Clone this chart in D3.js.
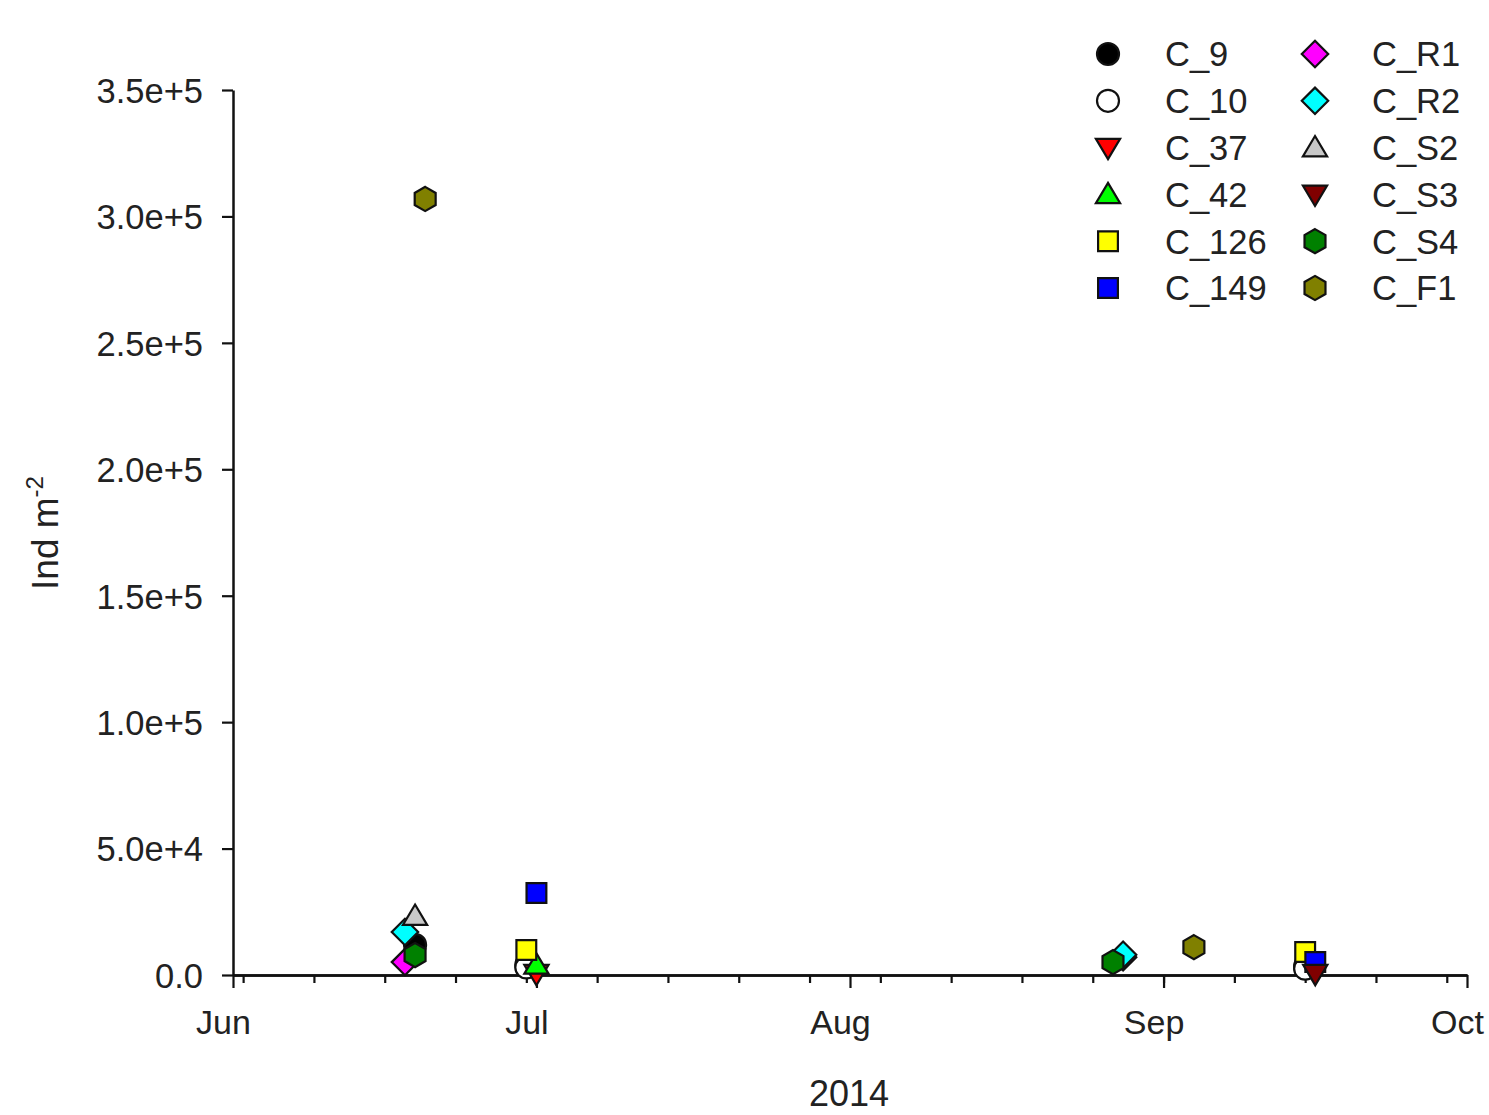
<!DOCTYPE html>
<html>
<head>
<meta charset="utf-8">
<script src="https://cdn.jsdelivr.net/npm/d3@7"></script>
<style>
  body { margin: 0; background: #fff; }
  svg text { font-family: "Liberation Sans", Arial, sans-serif; fill: #222; }
</style>
</head>
<body>
<div id="chart"></div>
<script>
// Series names, colours and marker shapes (legend order)
var seriesNames = ["C_9", "C_10", "C_37", "C_42", "C_126", "C_149",
                   "C_R1", "C_R2", "C_S2", "C_S3", "C_S4", "C_F1"];
var seriesFills = ["#000000", "#ffffff", "#ff0000", "#00ff00", "#ffff00", "#0000ff",
                   "#ff00ff", "#00ffff", "#c8c8c8", "#800000", "#008000", "#808000"];
var seriesShapes = ["circle", "circle", "triDown", "triUp", "square", "square",
                    "diamond", "diamond", "triUp", "triDown", "hexagon", "hexagon"];

// Observations per series: [date, individuals per m2]
var C_9   = [["2014-06-19", 11900], ["2014-06-30", 4000], ["2014-09-15", 3500]];
var C_10  = [["2014-06-30", 3000], ["2014-09-15", 2500]];
var C_37  = [["2014-07-01", 500]];
var C_42  = [["2014-07-01", 4000]];
var C_126 = [["2014-06-30", 9900], ["2014-09-15", 9100]];
var C_149 = [["2014-07-01", 32400], ["2014-09-16", 5100]];
var C_R1  = [["2014-06-18", 5100], ["2014-08-28", 7000]];
var C_R2  = [["2014-06-18", 17000], ["2014-08-28", 8000]];
var C_S2  = [["2014-06-19", 23300]];
var C_S3  = [["2014-09-16", 500]];
var C_S4  = [["2014-06-19", 7900], ["2014-08-27", 5100]];
var C_F1  = [["2014-06-20", 306900], ["2014-09-04", 11000]];

var seriesData = [C_9, C_10, C_37, C_42, C_126, C_149, C_R1, C_R2, C_S2, C_S3, C_S4, C_F1];

var yTicks = [0, 50000, 100000, 150000, 200000, 250000, 300000, 350000];

// Canvas
var svgWidth = 1489;
var svgHeight = 1115;
var svg = d3.select("#chart").append("svg")
  .attr("width", svgWidth)
  .attr("height", svgHeight);

var parseDate = d3.timeParse("%Y-%m-%d");

var x = d3.scaleTime()
  .domain([new Date(2014, 5, 1), new Date(2014, 9, 1)])
  .range([233, 1467]);
var y = d3.scaleLinear()
  .domain([0, 350000])
  .range([975, 90]);

// Marker path for a shape with "radius" r
function shapePath(type, r) {
  var p = d3.path();
  if (type === "circle") {
    p.moveTo(r, 0); p.arc(0, 0, r, 0, 2 * Math.PI); p.closePath();
  } else if (type === "square") {
    var s = r * 0.9;
    p.rect(-s, -s, 2 * s, 2 * s);
  } else if (type === "diamond") {
    var d = r * 1.2;
    p.moveTo(0, -d); p.lineTo(d, 0); p.lineTo(0, d); p.lineTo(-d, 0); p.closePath();
  } else if (type === "triUp") {
    p.moveTo(0, -r * 1.05); p.lineTo(r * 1.1, r * 0.8); p.lineTo(-r * 1.1, r * 0.8); p.closePath();
  } else if (type === "triDown") {
    p.moveTo(0, r * 1.05); p.lineTo(r * 1.1, -r * 0.8); p.lineTo(-r * 1.1, -r * 0.8); p.closePath();
  } else if (type === "hexagon") {
    var h = r * 1.1;
    for (var i = 0; i < 6; i++) {
      var a = -Math.PI / 2 + i * Math.PI / 3;
      if (i === 0) p.moveTo(h * Math.cos(a), h * Math.sin(a));
      else p.lineTo(h * Math.cos(a), h * Math.sin(a));
    }
    p.closePath();
  }
  return p.toString();
}

var markerR = 11;

// Axes
var yAxis = d3.axisLeft(y)
  .tickValues(yTicks)
  .tickSize(11)
  .tickSizeOuter(0)
  .tickPadding(19)
  .tickFormat(function(d) { return d === 0 ? "0.0" : d3.format(".1e")(d); });

var gy = svg.append("g")
  .attr("transform", "translate(233,0)")
  .call(yAxis);
gy.selectAll("text").style("font-size", "34.5px").attr("dy", "0.36em");

var minorAxis = d3.axisBottom(x)
  .tickValues(d3.timeMonday.range(new Date(2014, 5, 1), new Date(2014, 9, 1)))
  .tickSize(8)
  .tickSizeOuter(0)
  .tickFormat("");
svg.append("g")
  .attr("transform", "translate(0,975)")
  .call(minorAxis);

var majorAxis = d3.axisBottom(x)
  .tickValues(d3.timeMonth.range(new Date(2014, 5, 1), new Date(2014, 9, 2)))
  .tickSize(13)
  .tickSizeOuter(0)
  .tickPadding(22)
  .tickFormat(d3.timeFormat("%b"));
var gx = svg.append("g")
  .attr("transform", "translate(0,975)")
  .call(majorAxis);
gx.selectAll("text").style("font-size", "34px").attr("dx", "-10");

svg.selectAll(".domain").attr("stroke", "#111").attr("stroke-width", 2.5);
svg.selectAll(".tick line").attr("stroke", "#111").attr("stroke-width", 2.2);

// Axis titles
svg.append("text")
  .attr("x", 849).attr("y", 1106)
  .attr("text-anchor", "middle")
  .style("font-size", "36px")
  .text("2014");

var yt = svg.append("text")
  .attr("transform", "translate(58,533) rotate(-90)")
  .attr("text-anchor", "middle")
  .style("font-size", "37px");
yt.append("tspan").text("Ind m");
yt.append("tspan").attr("dy", "-15").style("font-size", "24px").text("-2");

// Points
var plot = svg.append("g");
seriesData.forEach(function(rows, i) {
  plot.selectAll(null)
    .data(rows)
    .enter()
    .append("path")
    .attr("transform", function(d) { return "translate(" + x(parseDate(d[0])) + "," + y(d[1]) + ")"; })
    .attr("d", shapePath(seriesShapes[i], markerR))
    .attr("fill", seriesFills[i])
    .attr("stroke", "#111")
    .attr("stroke-width", 2.2);
});

// Legend
var legend = svg.append("g");
seriesNames.forEach(function(name, i) {
  var col = Math.floor(i / 6), row = i % 6;
  var lx = 1108 + col * 207, ly = 54 + row * 46.8;
  legend.append("path")
    .attr("transform", "translate(" + lx + "," + ly + ")")
    .attr("d", shapePath(seriesShapes[i], markerR))
    .attr("fill", seriesFills[i])
    .attr("stroke", "#111")
    .attr("stroke-width", 2.2);
  legend.append("text")
    .attr("x", lx + 57).attr("y", ly)
    .attr("dy", "0.36em")
    .style("font-size", "34.5px")
    .text(name);
});
</script>
</body>
</html>
